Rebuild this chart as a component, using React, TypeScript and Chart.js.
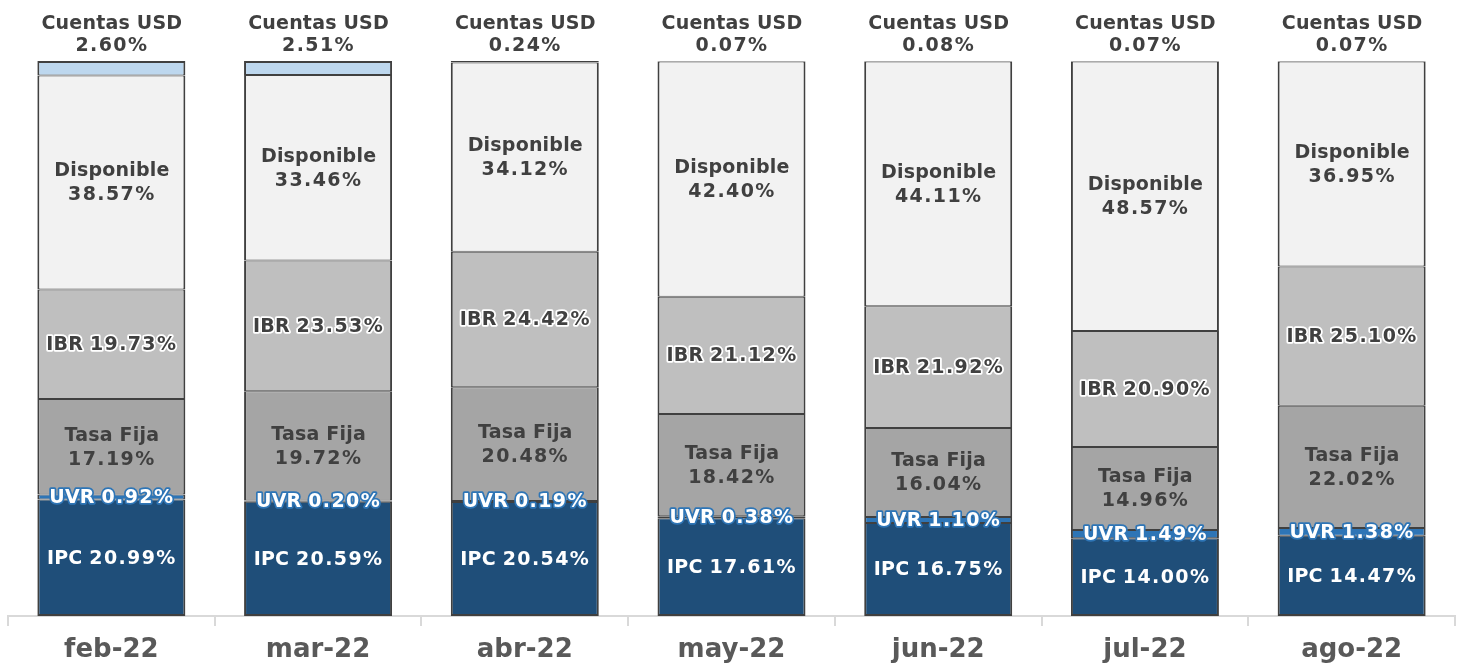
import React, { useEffect, useRef } from "react";
import { Chart, registerables } from "chart.js";

Chart.register(...registerables);

const categories = ["feb-22", "mar-22", "abr-22", "may-22", "jun-22", "jul-22", "ago-22"];
const ipc = [20.99, 20.59, 20.54, 17.61, 16.75, 14.0, 14.47];
const uvr = [0.92, 0.2, 0.19, 0.38, 1.1, 1.49, 1.38];
const tasaFija = [17.19, 19.72, 20.48, 18.42, 16.04, 14.96, 22.02];
const ibr = [19.73, 23.53, 24.42, 21.12, 21.92, 20.9, 25.1];
const disponible = [38.57, 33.46, 34.12, 42.4, 44.11, 48.57, 36.95];
const cuentasUsd = [2.6, 2.51, 0.24, 0.07, 0.08, 0.07, 0.07];

const FONT = '"DejaVu Sans", Verdana, sans-serif';
const NAME_SPACING = "0.2px";
const VALUE_SPACING = "1.4px";

const labelPlugin = {
  id: "segLabels",
  afterDatasetsDraw(chart: any) {
    const ctx = chart.ctx;
    ctx.save();
    ctx.font = `bold 19px ${FONT}`;
    ctx.textAlign = "left";
    ctx.textBaseline = "middle";
    ctx.lineJoin = "round";
    const setSp = (s: string) => {
      try {
        (ctx as any).letterSpacing = s;
      } catch (e) {}
    };
    chart.data.datasets.forEach((ds: any, di: number) => {
      const meta = chart.getDatasetMeta(di);
      const mode = ds.labelMode;
      meta.data.forEach((el: any, i: number) => {
        const v = ds.data[i] as number;
        const val = v.toFixed(2) + "%";
        const cx = el.x + 0.5;
        const top = Math.min(el.y, el.base);
        const bot = Math.max(el.y, el.base);
        const cy = (top + bot) / 2;
        const drawParts = (parts: [string, string][], y: number) => {
          const widths = parts.map(([t, sp]) => {
            setSp(sp);
            return ctx.measureText(t).width;
          });
          const total = widths.reduce((a, b) => a + b, 0);
          let x = cx - total / 2;
          parts.forEach(([t, sp], k) => {
            setSp(sp);
            if (ds.labelHalo) {
              ctx.strokeStyle = ds.labelHalo;
              ctx.lineWidth = 3.5;
              ctx.strokeText(t, x, y);
            }
            ctx.fillStyle = ds.labelColor;
            ctx.fillText(t, x, y);
            x += widths[k];
          });
        };
        if (mode === "inline") {
          drawParts(
            [
              [ds.label + " ", NAME_SPACING],
              [val, VALUE_SPACING],
            ],
            cy + 1
          );
        } else if (mode === "stack") {
          drawParts([[ds.label, NAME_SPACING]], cy - 11);
          drawParts([[val, VALUE_SPACING]], cy + 13);
        } else if (mode === "above") {
          drawParts([[ds.label, NAME_SPACING]], top - 37);
          drawParts([[val, VALUE_SPACING]], top - 15);
        }
      });
    });
    ctx.restore();
  },
};

export default function App() {
  const ref = useRef<HTMLCanvasElement | null>(null);
  useEffect(() => {
    if (!ref.current) return;
    const border = "#404040";
    const bw = (first: boolean, last: boolean) => ({
      top: last ? 2 : 1,
      bottom: first ? 2 : 1,
      left: 2,
      right: 2,
    });
    const mk = (
      label: string,
      data: number[],
      color: string,
      labelMode: string,
      labelColor: string,
      labelHalo: string | null,
      first = false,
      last = false
    ) => ({
      label,
      data,
      backgroundColor: color,
      borderColor: border,
      borderWidth: bw(first, last),
      borderSkipped: false,
      barPercentage: 0.716,
      categoryPercentage: 1,
      labelMode,
      labelColor,
      labelHalo,
    });
    const chart = new Chart(ref.current, {
      type: "bar",
      data: {
        labels: categories,
        datasets: [
          mk("IPC", ipc, "#1F4E79", "inline", "#FFFFFF", null, true, false),
          mk("UVR", uvr, "#2E75B6", "inline", "#FFFFFF", "#2E75B6"),
          mk("Tasa Fija", tasaFija, "#A5A5A5", "stack", "#404040", null),
          mk("IBR", ibr, "#BFBFBF", "inline", "#404040", "#FFFFFF"),
          mk("Disponible", disponible, "#F2F2F2", "stack", "#404040", null),
          mk("Cuentas USD", cuentasUsd, "#BDD7EE", "above", "#404040", null, false, true),
        ] as any,
      },
      options: {
        animation: false,
        responsive: true,
        maintainAspectRatio: false,
        layout: { padding: { top: 61, left: 8, right: 6, bottom: 0 } },
        plugins: {
          legend: { display: false },
          tooltip: { enabled: false },
        },
        scales: {
          x: {
            stacked: true,
            afterFit: (scale: any) => {
              scale.height = 49;
            },
            grid: {
              display: true,
              drawOnChartArea: false,
              drawTicks: true,
              tickLength: 10,
              color: "#D9D9D9",
              lineWidth: 2,
              offset: true,
            },
            border: { display: true, color: "#D9D9D9", width: 2 },
            ticks: {
              color: "#595959",
              padding: 9,
              font: { family: FONT, size: 26, weight: "bold" },
            },
          },
          y: {
            stacked: true,
            display: false,
            min: 0,
            max: 100,
          },
        },
      },
      plugins: [labelPlugin],
    } as any);
    return () => chart.destroy();
  }, []);
  return (
    <div style={{ position: "fixed", left: 0, top: 0, width: 1461, height: 665 }}>
      <canvas ref={ref} />
    </div>
  );
}
